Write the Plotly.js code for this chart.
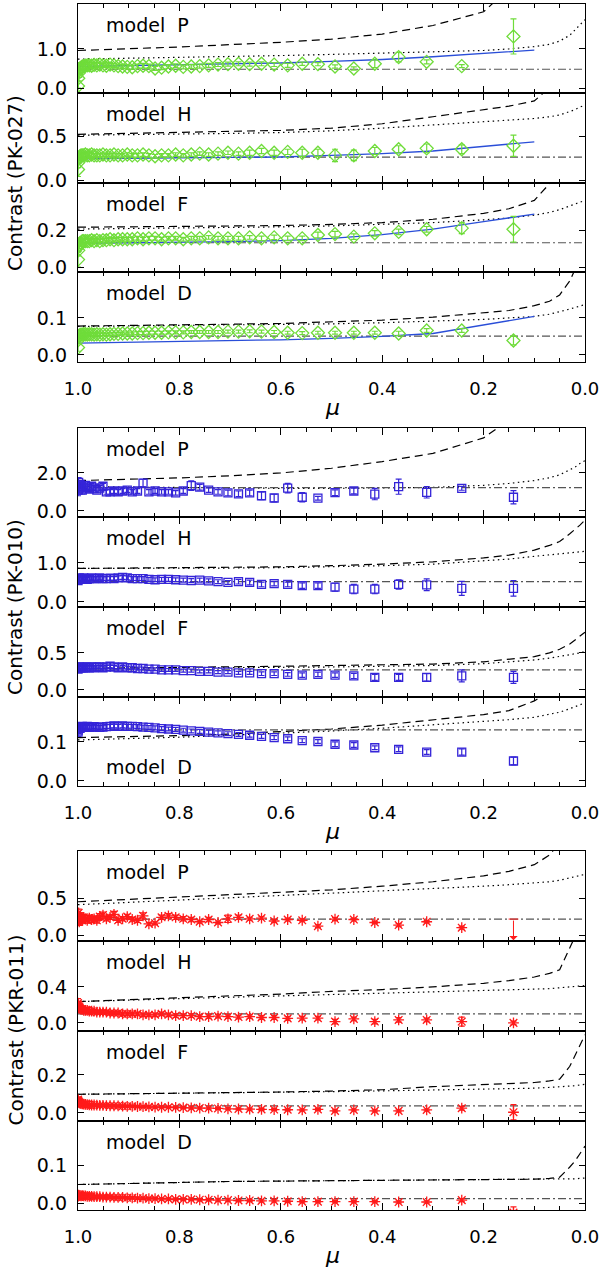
<!DOCTYPE html>
<html>
<head>
<meta charset="utf-8">
<script src="https://cdn.plot.ly/plotly-3.0.1.min.js"></script>
<style>
  html, body { margin: 0; padding: 0; background: #fff; }
  #chart { width: 600px; height: 1273px; }
</style>
</head>
<body>
<div id="chart"></div>
<script>
// mu positions of the observed points (dense near disc centre, sparse toward the limb)
const mu = [0.99995,0.99955,0.99875,0.99755,0.99594,0.99393,0.99151,0.98869,0.98544,0.98178,
  0.97770,0.97319,0.96825,0.96286,0.95703,0.95074,0.94398,0.93675,0.92903,0.92082,
  0.91209,0.90284,0.89303,0.88266,0.87172,0.86017,0.84800,0.83516,0.82164,0.80740,
  0.79240,0.77660,0.75993,0.74236,0.72380,0.70420,0.68345,0.66144,0.63804,0.61311,
  0.58643,0.55776,0.52678,0.49305,0.45596,0.41461,0.36756,0.31225,0.24310,0.14107];
const muModel = [1.0,0.9,0.8,0.7,0.6,0.5,0.4,0.3,0.2,0.15,0.1,0.07,0.05,0.03,0.02,0.01,0.0];
const muBlue = [1.0,0.9,0.8,0.7,0.6,0.5,0.4,0.3,0.2,0.1];
const muLevel = [1.0, 0.0];

// ---- PK-027 (green diamonds) ----
const pk027P = [0.05,0.25,0.38,0.45,0.50,0.52,0.55,0.56,0.57,0.58,
  0.58,0.57,0.59,0.58,0.60,0.58,0.57,0.60,0.58,0.56,
  0.55,0.54,0.53,0.56,0.57,0.56,0.50,0.52,0.55,0.57,
  0.54,0.55,0.56,0.58,0.60,0.61,0.62,0.61,0.62,0.60,
  0.58,0.62,0.61,0.55,0.50,0.62,0.79,0.67,0.56,1.32];
const pk027PErr = [0.30,0.25,0.20,0.18,0.15,0.12,0.10,0.10,0.08,0.08,
  0.07,0.07,0.06,0.06,0.06,0.05,0.05,0.05,0.05,0.05,
  0.05,0.05,0.05,0.05,0.06,0.05,0.05,0.05,0.05,0.05,
  0.05,0.05,0.05,0.05,0.05,0.05,0.05,0.05,0.05,0.05,
  0.05,0.04,0.04,0.04,0.04,0.10,0.12,0.05,0.04,0.45];
const pk027H = [0.12,0.20,0.24,0.26,0.27,0.28,0.28,0.28,0.29,0.28,
  0.28,0.29,0.28,0.28,0.28,0.29,0.28,0.28,0.29,0.28,
  0.28,0.29,0.28,0.28,0.29,0.28,0.27,0.28,0.28,0.29,
  0.28,0.29,0.30,0.29,0.30,0.31,0.30,0.31,0.33,0.31,
  0.32,0.31,0.31,0.28,0.28,0.33,0.35,0.36,0.35,0.39];
const pk027HErr = [0.08,0.06,0.05,0.04,0.04,0.03,0.03,0.03,0.03,0.03,
  0.03,0.03,0.02,0.02,0.02,0.02,0.02,0.02,0.02,0.02,
  0.02,0.02,0.02,0.02,0.02,0.02,0.02,0.02,0.02,0.02,
  0.02,0.02,0.02,0.02,0.02,0.02,0.02,0.03,0.03,0.03,
  0.03,0.04,0.04,0.07,0.06,0.04,0.04,0.05,0.05,0.12];
const pk027F = [0.04,0.09,0.11,0.12,0.13,0.13,0.14,0.14,0.14,0.14,
  0.14,0.145,0.14,0.145,0.14,0.145,0.145,0.15,0.145,0.15,
  0.15,0.15,0.15,0.155,0.15,0.155,0.155,0.15,0.155,0.155,
  0.15,0.155,0.155,0.16,0.155,0.155,0.155,0.16,0.155,0.16,
  0.155,0.155,0.173,0.178,0.164,0.182,0.19,0.204,0.21,0.204];
const pk027FErr = [0.04,0.03,0.025,0.02,0.02,0.015,0.015,0.015,0.012,0.012,
  0.012,0.01,0.01,0.01,0.01,0.01,0.01,0.01,0.01,0.01,
  0.01,0.01,0.01,0.01,0.01,0.01,0.01,0.01,0.01,0.01,
  0.01,0.01,0.01,0.01,0.01,0.01,0.01,0.01,0.012,0.012,
  0.012,0.012,0.015,0.015,0.015,0.015,0.015,0.015,0.03,0.07];
const pk027D = [0.02,0.04,0.05,0.052,0.054,0.055,0.055,0.056,0.056,0.055,
  0.056,0.056,0.055,0.056,0.055,0.056,0.055,0.056,0.057,0.057,
  0.058,0.058,0.058,0.059,0.059,0.06,0.06,0.06,0.061,0.061,
  0.061,0.062,0.062,0.062,0.062,0.063,0.063,0.064,0.063,0.062,
  0.06,0.059,0.06,0.06,0.06,0.06,0.058,0.066,0.066,0.039];
const pk027DErr = [0.01,0.008,0.006,0.005,0.005,0.004,0.004,0.004,0.004,0.004,
  0.004,0.004,0.004,0.004,0.004,0.004,0.004,0.004,0.004,0.004,
  0.004,0.004,0.004,0.004,0.004,0.004,0.004,0.004,0.004,0.004,
  0.004,0.004,0.004,0.004,0.004,0.004,0.004,0.004,0.004,0.004,
  0.004,0.004,0.004,0.004,0.004,0.004,0.006,0.005,0.005,0.012];

// ---- PK-010 (blue squares) ----
const pk010P = [1.10,1.30,1.50,1.20,1.40,1.30,1.10,1.25,1.35,1.20,
  1.15,1.30,1.20,1.10,1.20,1.30,1.00,1.00,1.05,1.00,
  1.05,1.10,1.00,1.05,1.47,1.00,1.05,1.00,1.00,0.95,
  1.05,1.33,1.25,1.10,1.00,0.95,0.90,0.95,0.80,0.68,
  1.20,0.72,0.67,0.96,1.05,0.89,1.28,0.98,1.19,0.72];
const pk010PErr = [0.30,0.30,0.25,0.25,0.20,0.20,0.20,0.20,0.18,0.18,
  0.15,0.15,0.15,0.15,0.15,0.15,0.12,0.12,0.12,0.12,
  0.12,0.12,0.12,0.12,0.20,0.12,0.12,0.12,0.12,0.12,
  0.12,0.25,0.15,0.12,0.12,0.15,0.15,0.15,0.20,0.20,
  0.25,0.25,0.10,0.15,0.15,0.30,0.40,0.30,0.10,0.35];
const pk010H = [0.55,0.60,0.58,0.62,0.60,0.58,0.60,0.62,0.60,0.58,
  0.60,0.62,0.60,0.60,0.62,0.60,0.60,0.61,0.60,0.62,
  0.63,0.62,0.60,0.60,0.60,0.58,0.57,0.58,0.58,0.57,
  0.56,0.55,0.56,0.54,0.52,0.50,0.52,0.50,0.45,0.47,
  0.45,0.42,0.42,0.38,0.33,0.33,0.45,0.44,0.35,0.35];
const pk010HErr = [0.10,0.08,0.08,0.07,0.06,0.06,0.05,0.05,0.05,0.05,
  0.05,0.05,0.05,0.05,0.05,0.05,0.05,0.05,0.05,0.05,
  0.05,0.05,0.05,0.05,0.05,0.05,0.05,0.05,0.05,0.05,
  0.05,0.05,0.05,0.05,0.05,0.05,0.06,0.06,0.06,0.06,
  0.06,0.07,0.07,0.10,0.12,0.12,0.12,0.15,0.18,0.20];
const pk010F = [0.28,0.30,0.30,0.31,0.30,0.30,0.31,0.30,0.30,0.31,
  0.30,0.31,0.30,0.31,0.31,0.30,0.31,0.32,0.31,0.30,
  0.31,0.30,0.30,0.29,0.29,0.28,0.28,0.27,0.27,0.27,
  0.26,0.26,0.25,0.25,0.24,0.24,0.23,0.23,0.22,0.22,
  0.21,0.20,0.21,0.20,0.19,0.17,0.17,0.17,0.19,0.17];
const pk010FErr = [0.04,0.03,0.03,0.025,0.025,0.02,0.02,0.02,0.02,0.02,
  0.02,0.02,0.02,0.02,0.02,0.02,0.02,0.02,0.02,0.02,
  0.02,0.02,0.02,0.02,0.02,0.02,0.02,0.02,0.02,0.02,
  0.02,0.02,0.02,0.02,0.02,0.02,0.02,0.02,0.025,0.025,
  0.025,0.03,0.03,0.03,0.035,0.04,0.04,0.05,0.08,0.08];
const pk010D = [0.125,0.13,0.135,0.138,0.135,0.138,0.14,0.137,0.138,0.14,
  0.137,0.138,0.139,0.138,0.137,0.138,0.139,0.14,0.141,0.14,
  0.141,0.14,0.14,0.139,0.138,0.137,0.136,0.134,0.133,0.132,
  0.13,0.128,0.127,0.125,0.123,0.121,0.119,0.117,0.114,0.111,
  0.108,0.103,0.101,0.094,0.092,0.085,0.081,0.074,0.074,0.051];
const pk010DErr = [0.01,0.008,0.007,0.006,0.006,0.005,0.005,0.005,0.005,0.005,
  0.005,0.005,0.005,0.005,0.005,0.005,0.005,0.005,0.005,0.005,
  0.005,0.005,0.005,0.005,0.005,0.005,0.005,0.005,0.005,0.005,
  0.005,0.005,0.005,0.005,0.005,0.005,0.005,0.005,0.005,0.005,
  0.005,0.005,0.005,0.006,0.006,0.005,0.006,0.006,0.008,0.01];

// ---- PKR-011 (red asterisks) ----
const pkr011P = [0.25,0.20,0.30,0.18,0.25,0.22,0.20,0.24,0.22,0.20,
  0.23,0.21,0.22,0.20,0.25,0.27,0.22,0.24,0.28,0.20,
  0.22,0.25,0.21,0.20,0.26,0.15,0.16,0.24,0.26,0.24,
  0.22,0.21,0.18,0.21,0.17,0.22,0.24,0.22,0.23,0.19,
  0.21,0.20,0.12,0.216,0.21,0.17,0.135,0.18,0.10,null];
const pkr011PErr = [0.06,0.06,0.05,0.05,0.05,0.04,0.04,0.04,0.04,0.04,
  0.04,0.04,0.04,0.04,0.04,0.04,0.03,0.03,0.04,0.03,
  0.03,0.03,0.03,0.03,0.04,0.02,0.02,0.03,0.03,0.03,
  0.03,0.03,0.02,0.03,0.02,0.05,0.03,0.02,0.02,0.02,
  0.02,0.02,0.02,0.02,0.02,0.015,0.02,0.015,0.02,0];
const pkr011LimitMu = [0.14107];
const pkr011LimitTop = [0.216];
const pkr011LimitBottom = [-0.07];
const pkr011H = [0.22,0.20,0.18,0.17,0.16,0.15,0.15,0.14,0.14,0.14,
  0.13,0.13,0.13,0.12,0.12,0.12,0.12,0.11,0.11,0.11,
  0.10,0.10,0.10,0.10,0.09,0.09,0.09,0.10,0.09,0.08,
  0.08,0.08,0.07,0.07,0.075,0.07,0.065,0.07,0.06,0.06,
  0.05,0.052,0.052,0.015,0.044,0.015,0.033,0.033,0.015,0.0];
const pkr011HErr = [0.05,0.04,0.04,0.03,0.03,0.03,0.02,0.02,0.02,0.02,
  0.02,0.02,0.02,0.02,0.02,0.02,0.02,0.02,0.02,0.02,
  0.02,0.02,0.02,0.02,0.02,0.02,0.02,0.02,0.02,0.02,
  0.02,0.02,0.02,0.02,0.02,0.02,0.02,0.02,0.02,0.02,
  0.02,0.02,0.02,0.025,0.02,0.025,0.025,0.02,0.05,0.02];
const pkr011F = [0.07,0.065,0.06,0.055,0.05,0.05,0.048,0.046,0.045,0.044,
  0.043,0.042,0.042,0.041,0.04,0.04,0.039,0.038,0.038,0.037,
  0.036,0.035,0.035,0.034,0.033,0.032,0.031,0.03,0.03,0.029,
  0.028,0.027,0.026,0.025,0.024,0.022,0.021,0.02,0.019,0.018,
  0.017,0.016,0.019,0.011,0.016,0.011,0.011,0.016,0.025,0.004];
const pkr011FErr = [0.015,0.012,0.01,0.008,0.008,0.006,0.006,0.005,0.005,0.005,
  0.005,0.005,0.005,0.005,0.005,0.005,0.005,0.005,0.005,0.005,
  0.005,0.005,0.005,0.005,0.005,0.005,0.005,0.005,0.005,0.005,
  0.005,0.005,0.005,0.005,0.005,0.005,0.005,0.005,0.005,0.005,
  0.005,0.005,0.005,0.005,0.005,0.005,0.005,0.005,0.01,0.04];
const pkr011D = [0.018,0.02,0.021,0.02,0.02,0.019,0.02,0.019,0.019,0.018,
  0.018,0.018,0.017,0.017,0.017,0.016,0.016,0.016,0.015,0.015,
  0.015,0.014,0.014,0.013,0.013,0.012,0.012,0.011,0.011,0.01,
  0.01,0.01,0.009,0.009,0.008,0.008,0.007,0.007,0.006,0.006,
  0.005,0.004,0.004,0.004,0.004,0.004,0.003,0.003,0.008,-0.025];
const pkr011DErr = [0.006,0.005,0.004,0.004,0.003,0.003,0.003,0.003,0.003,0.003,
  0.003,0.003,0.003,0.003,0.003,0.003,0.003,0.003,0.003,0.003,
  0.003,0.003,0.003,0.003,0.003,0.003,0.003,0.003,0.003,0.003,
  0.003,0.003,0.003,0.003,0.003,0.003,0.003,0.003,0.003,0.003,
  0.003,0.003,0.003,0.003,0.003,0.003,0.003,0.003,0.004,0.015];

// ---- model curves: dashed, dotted (on muModel), flat dash-dot level, blue fit (on muBlue) ----
const dash027P = [0.96,1.0,1.05,1.11,1.17,1.25,1.38,1.6,1.95,2.55,3.4,4,4.5,5,5.2,5.4,5.6];
const dot027P = [0.74,0.76,0.78,0.8,0.83,0.86,0.89,0.92,0.96,1.0,1.06,1.12,1.2,1.35,1.48,1.62,1.75];
const blue027P = [0.55,0.57,0.59,0.61,0.64,0.68,0.73,0.8,0.88,0.97];
const dash027H = [0.52,0.53,0.54,0.55,0.565,0.59,0.64,0.72,0.8,0.84,0.9,1.05,1.2,1.4,1.5,1.6,1.7];
const dot027H = [0.51,0.515,0.52,0.53,0.54,0.56,0.59,0.625,0.66,0.68,0.70,0.72,0.74,0.78,0.8,0.83,0.85];
const blue027H = [0.24,0.245,0.25,0.255,0.262,0.28,0.3,0.33,0.38,0.435];
const dash027F = [0.215,0.217,0.219,0.221,0.224,0.23,0.24,0.258,0.29,0.315,0.36,0.45,0.55,0.7,0.8,0.9,1.0];
const dot027F = [0.205,0.207,0.21,0.213,0.217,0.222,0.23,0.24,0.255,0.265,0.28,0.295,0.31,0.33,0.34,0.35,0.36];
const blue027F = [0.128,0.13,0.133,0.137,0.143,0.155,0.175,0.205,0.245,0.286];
const dash027D = [0.078,0.079,0.081,0.083,0.085,0.089,0.094,0.102,0.113,0.12,0.133,0.145,0.162,0.2,0.23,0.26,0.29];
const dot027D = [0.077,0.078,0.079,0.08,0.081,0.084,0.087,0.091,0.096,0.1,0.104,0.11,0.116,0.124,0.128,0.132,0.136];
const blue027D = [0.032,0.034,0.036,0.038,0.041,0.045,0.05,0.058,0.08,0.104];
const level027 = [0.48, 0.26, 0.131, 0.051];

const dash010P = [1.6,1.66,1.74,1.85,2.0,2.25,2.6,3.03,3.85,4.8,6,7,8,9,9.5,10,10.5];
const dot010P = [1.28,1.25,1.22,1.2,1.19,1.19,1.2,1.24,1.35,1.45,1.6,1.75,1.9,2.15,2.3,2.5,2.65];
const dash010H = [0.86,0.87,0.88,0.89,0.9,0.93,0.97,1.03,1.13,1.2,1.33,1.45,1.55,1.75,1.85,1.97,2.1];
const dot010H = [0.86,0.86,0.87,0.87,0.88,0.9,0.93,0.97,1.05,1.1,1.17,1.21,1.24,1.27,1.28,1.29,1.3];
const dash010F = [0.29,0.295,0.3,0.31,0.32,0.33,0.34,0.35,0.38,0.41,0.45,0.5,0.55,0.62,0.67,0.73,0.78];
const dot010F = [0.29,0.292,0.295,0.3,0.305,0.31,0.32,0.33,0.355,0.375,0.405,0.43,0.45,0.47,0.48,0.5,0.52];
const dash010D = [0.111,0.113,0.116,0.12,0.126,0.133,0.143,0.156,0.17,0.18,0.205,0.23,0.26,0.3,0.32,0.34,0.36];
const dot010D = [0.105,0.108,0.112,0.117,0.122,0.128,0.135,0.144,0.152,0.157,0.163,0.17,0.176,0.185,0.19,0.195,0.2];
const level010 = [1.23, 0.52, 0.27, 0.131];

const dash011P = [0.45,0.48,0.51,0.54,0.57,0.61,0.66,0.72,0.8,0.86,0.95,1.08,1.25,1.45,1.55,1.65,1.75];
const dot011P = [0.41,0.44,0.47,0.5,0.53,0.56,0.6,0.63,0.66,0.68,0.7,0.72,0.74,0.77,0.78,0.8,0.82];
const dash011H = [0.237,0.26,0.28,0.3,0.32,0.35,0.37,0.4,0.44,0.47,0.51,0.55,0.59,0.85,1.0,1.1,1.2];
const dot011H = [0.237,0.255,0.27,0.285,0.3,0.315,0.33,0.345,0.355,0.36,0.37,0.38,0.39,0.4,0.405,0.41,0.415];
const dash011F = [0.098,0.1,0.103,0.106,0.11,0.115,0.122,0.138,0.148,0.153,0.16,0.168,0.177,0.245,0.3,0.35,0.41];
const dot011F = [0.098,0.1,0.102,0.105,0.108,0.112,0.116,0.12,0.125,0.128,0.13,0.134,0.137,0.141,0.143,0.147,0.15];
const dash011D = [0.049,0.052,0.055,0.057,0.058,0.059,0.06,0.06,0.061,0.062,0.063,0.065,0.068,0.095,0.11,0.13,0.15];
const dot011D = [0.049,0.052,0.055,0.057,0.058,0.059,0.06,0.06,0.061,0.062,0.062,0.063,0.063,0.064,0.064,0.065,0.066];
const level011 = [0.216, 0.10, 0.037, 0.012];

const modelNames = ["P", "H", "F", "D"];
const yTickVals = [[0, 1.0], [0, 0.5], [0, 0.2], [0, 0.1],
                   [0, 2.0], [0, 1.0], [0, 0.5], [0, 0.1],
                   [0, 0.5], [0, 0.4], [0, 0.2], [0, 0.1]];
const groupNames = ["Contrast (PK-027)", "Contrast (PK-010)", "Contrast (PKR-011)"];

// ---- page geometry (pixels) ----
const W = 600, H = 1273;
const M = { l: 78, r: 15, t: 4, b: 63 };
const plotH = H - M.t - M.b;
const panelTop = [4, 93, 183, 272, 428, 517, 607, 697, 851, 941, 1031, 1121];
const panelBot = [93, 183, 272, 362, 517, 607, 697, 786, 941, 1031, 1121, 1210];
const yRanges = [[-0.128, 2.15], [-0.034, 0.99], [-0.027, 0.454], [-0.019, 0.224],
                 [-0.32, 4.37], [-0.13, 2.18], [-0.095, 1.12], [-0.013, 0.215],
                 [-0.08, 1.135], [-0.09, 0.91], [-0.042, 0.43], [-0.018, 0.216]];

const groupStyle = [
  { color: "#6fdc3a", symbol: "diamond-open", size: 10 },
  { color: "#3424d8", symbol: "square-open", size: 8 },
  { color: "#ff1a1a", symbol: "asterisk-open", size: 9 },
];

const panels = [
  { d: pk027P, e: pk027PErr, dash: dash027P, dot: dot027P, level: level027[0], blue: blue027P },
  { d: pk027H, e: pk027HErr, dash: dash027H, dot: dot027H, level: level027[1], blue: blue027H },
  { d: pk027F, e: pk027FErr, dash: dash027F, dot: dot027F, level: level027[2], blue: blue027F },
  { d: pk027D, e: pk027DErr, dash: dash027D, dot: dot027D, level: level027[3], blue: blue027D },
  { d: pk010P, e: pk010PErr, dash: dash010P, dot: dot010P, level: level010[0] },
  { d: pk010H, e: pk010HErr, dash: dash010H, dot: dot010H, level: level010[1] },
  { d: pk010F, e: pk010FErr, dash: dash010F, dot: dot010F, level: level010[2] },
  { d: pk010D, e: pk010DErr, dash: dash010D, dot: dot010D, level: level010[3] },
  { d: pkr011P, e: pkr011PErr, dash: dash011P, dot: dot011P, level: level011[0] },
  { d: pkr011H, e: pkr011HErr, dash: dash011H, dot: dot011H, level: level011[1] },
  { d: pkr011F, e: pkr011FErr, dash: dash011F, dot: dot011F, level: level011[2] },
  { d: pkr011D, e: pkr011DErr, dash: dash011D, dot: dot011D, level: level011[3] },
];

const FONT = "DejaVu Sans, sans-serif";
const traces = [];
const annotations = [];
const layout = {
  width: W, height: H,
  margin: M,
  showlegend: false,
  paper_bgcolor: "#ffffff",
  plot_bgcolor: "#ffffff",
  font: { family: FONT, size: 18, color: "#000" },
};

panels.forEach((p, k) => {
  const g = Math.floor(k / 4);
  const xa = k === 0 ? "x" : "x" + (k + 1);
  const ya = k === 0 ? "y" : "y" + (k + 1);
  const st = groupStyle[g];
  const isBottom = k % 4 === 3;

  layout[k === 0 ? "xaxis" : "xaxis" + (k + 1)] = {
    anchor: ya, domain: [0, 1], range: [1, 0],
    showgrid: false, zeroline: false,
    showline: true, linecolor: "#000", linewidth: 1.2, mirror: "ticks",
    ticks: "inside", ticklen: 7, tickwidth: 1, tickcolor: "#000",
    tick0: 0, dtick: 0.2,
    minor: { dtick: 0.05, ticks: "inside", ticklen: 4, tickwidth: 1, tickcolor: "#000" },
    showticklabels: isBottom, tickformat: ".1f",
    ticklabelstandoff: 10,
    tickfont: { family: FONT, size: 18 },
  };
  layout[k === 0 ? "yaxis" : "yaxis" + (k + 1)] = {
    anchor: xa,
    domain: [(H - M.b - panelBot[k]) / plotH, (H - M.b - panelTop[k]) / plotH],
    range: yRanges[k],
    showgrid: false, zeroline: false,
    showline: true, linecolor: "#000", linewidth: 1.2, mirror: "ticks",
    ticks: "inside", ticklen: 6, tickwidth: 1, tickcolor: "#000",
    tickvals: yTickVals[k], tickformat: ".1f",
    ticklabelstandoff: 6,
    tickfont: { family: FONT, size: 19 },
  };

  // model curves
  traces.push({ x: muModel, y: p.dash, xaxis: xa, yaxis: ya, mode: "lines",
    line: { color: "#000", width: 1.2, dash: "8px,5px" }, hoverinfo: "skip" });
  traces.push({ x: muModel, y: p.dot, xaxis: xa, yaxis: ya, mode: "lines",
    line: { color: "#000", width: 1.2, dash: "1.5px,3.5px" }, hoverinfo: "skip" });
  traces.push({ x: muLevel, y: muLevel.map(() => p.level), xaxis: xa, yaxis: ya, mode: "lines",
    line: { color: "#555", width: 1.2, dash: "8px,3px,2px,3px" }, hoverinfo: "skip" });
  if (p.blue) {
    traces.push({ x: muBlue, y: p.blue, xaxis: xa, yaxis: ya, mode: "lines",
      line: { color: "#2a4ed8", width: 1.3 }, hoverinfo: "skip" });
  }

  // observed contrasts
  traces.push({
    x: mu, y: p.d, xaxis: xa, yaxis: ya, mode: "markers",
    marker: { symbol: st.symbol, size: st.size, color: st.color, line: { color: st.color, width: 1.3 } },
    error_y: { type: "data", array: p.e, visible: true, color: st.color, thickness: 1.2, width: 3 },
    cliponaxis: true,
  });

  // model label
  const ph = panelBot[k] - panelTop[k];
  const fromTop = (k === 7) ? ph - 19 : 21;
  annotations.push({
    xref: "paper", yref: ya + " domain",
    x: (104 - M.l) / (W - M.l - M.r), y: 1 - fromTop / ph,
    xanchor: "left", yanchor: "middle", showarrow: false,
    text: "model\u00a0\u00a0" + modelNames[k % 4],
    font: { family: FONT, size: 19, color: "#000" },
  });
});

// upper limit in PKR-011 model P panel
traces.push({ x: pkr011LimitMu, y: pkr011LimitTop, xaxis: "x9", yaxis: "y9", mode: "markers",
  marker: { symbol: "line-ew-open", size: 7, color: "#ff1a1a", line: { color: "#ff1a1a", width: 1 } } });
annotations.push({
  xref: "x9", yref: "y9", axref: "x9", ayref: "y9",
  x: pkr011LimitMu[0], y: pkr011LimitBottom[0], ax: pkr011LimitMu[0], ay: pkr011LimitTop[0],
  text: "", showarrow: true, arrowhead: 1, arrowsize: 1.4, arrowwidth: 1, arrowcolor: "#ff1a1a",
  standoff: 0, startstandoff: 0,
});

// group y titles and mu labels
const groupCenters = [(panelTop[0] + panelBot[3]) / 2, (panelTop[4] + panelBot[7]) / 2, (panelTop[8] + panelBot[11]) / 2];
groupCenters.forEach((c, g) => {
  annotations.push({
    xref: "paper", yref: "paper",
    x: (15 - M.l) / (W - M.l - M.r), y: (H - M.b - c) / plotH,
    xanchor: "center", yanchor: "middle", showarrow: false, textangle: -90,
    text: groupNames[g], font: { family: FONT, size: 20, color: "#000" },
  });
  annotations.push({
    xref: "paper", yref: "paper",
    x: (332 - M.l) / (W - M.l - M.r), y: (H - M.b - (panelBot[g * 4 + 3] + 45)) / plotH,
    xanchor: "center", yanchor: "middle", showarrow: false,
    text: "<i>\u03bc</i>", font: { family: FONT, size: 22, color: "#000" },
  });
});
layout.annotations = annotations;

Plotly.newPlot("chart", traces, layout, { displayModeBar: false, staticPlot: true });
</script>
</body>
</html>
